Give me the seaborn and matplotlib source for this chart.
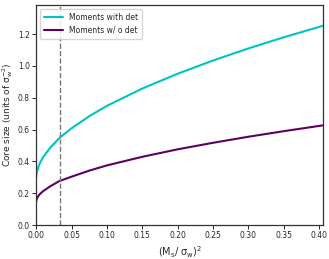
import pandas as pd
import matplotlib
matplotlib.use('Agg')
import matplotlib.pyplot as plt
import seaborn as sns

# values
x_vals = [0.0, 0.0002, 0.001, 0.003, 0.006, 0.01, 0.02, 0.033, 0.05, 0.075, 0.1,
          0.15, 0.2, 0.25, 0.3, 0.35, 0.406]
with_det = [0.295, 0.312, 0.334, 0.365, 0.396, 0.428, 0.487, 0.548, 0.608, 0.684, 0.749,
            0.858, 0.951, 1.034, 1.110, 1.180, 1.253]
without_det = [0.145, 0.155, 0.167, 0.183, 0.198, 0.214, 0.244, 0.277, 0.304, 0.342, 0.375,
               0.429, 0.476, 0.517, 0.555, 0.590, 0.627]
x_cut = 0.033

df = pd.DataFrame({'x': x_vals + x_vals,
                   'y': with_det + without_det,
                   'series': ['Moments with det'] * len(x_vals) + ['Moments w/ o det'] * len(x_vals)})

sns.set_style('ticks')
fig = plt.figure(figsize=(3.29, 2.59), dpi=100)
ax = fig.add_axes([0.11, 0.131, 0.873, 0.848])

sns.lineplot(data=df, x='x', y='y', hue='series',
             palette={'Moments with det': '#00c4c4', 'Moments w/ o det': '#5e0060'},
             linewidth=1.5, ax=ax)
ax.axvline(x_cut, color='#777777', linestyle='--', linewidth=1)

ax.set_xlim(0, 0.406)
ax.set_ylim(0, 1.38)
ax.set_xticks([0.0, 0.05, 0.1, 0.15, 0.2, 0.25, 0.3, 0.35, 0.4])
ax.set_yticks([0.0, 0.2, 0.4, 0.6, 0.8, 1.0, 1.2])
ax.tick_params(labelsize=5.5, length=3, width=0.7, pad=1.5)
for s in ax.spines.values():
    s.set_linewidth(0.9)
    s.set_color('#333333')

ax.set_xlabel(r'$\mathregular{(M_s/\ \sigma_w)^2}$', fontsize=7, labelpad=3)
ax.set_ylabel(r'Core size (units of $\mathregular{\sigma_w^{-2}}$)', fontsize=6.5, labelpad=2)
ax.legend(loc='upper left', fontsize=5.5, frameon=True, borderpad=0.5, handlelength=2.5)

fig.savefig('out.png', dpi=100)
